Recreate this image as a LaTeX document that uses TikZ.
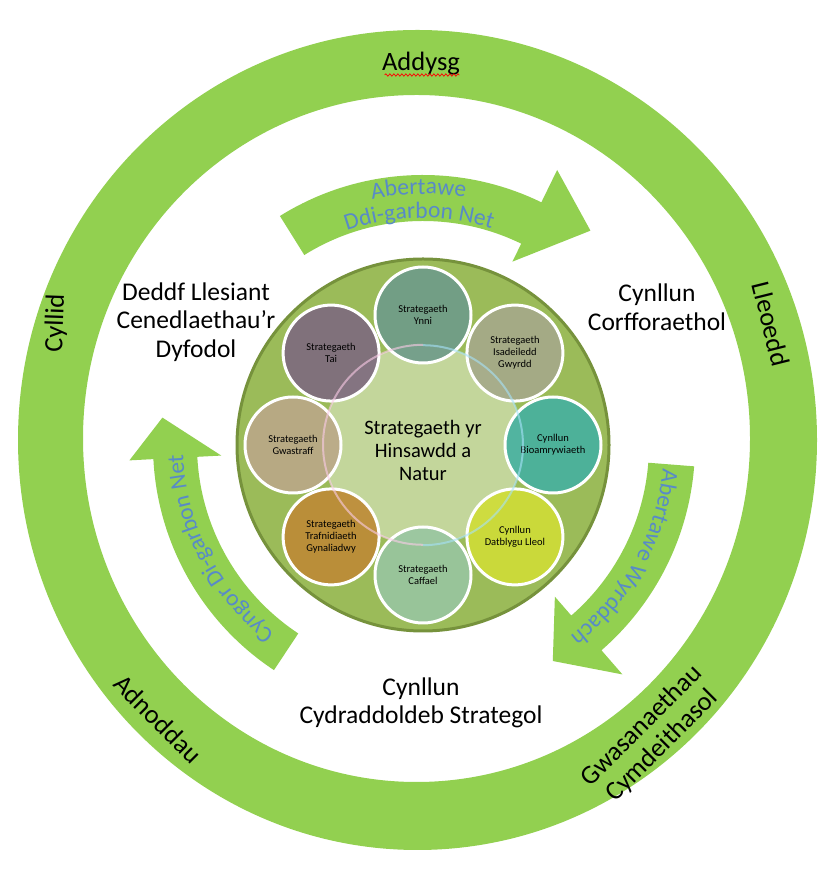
\documentclass[tikz,border=0pt]{standalone}
\usepackage{fontspec}
\setmainfont{Carlito}
\usepackage{tikz}
\usetikzlibrary{calc,positioning,decorations.text,decorations.pathmorphing}
\definecolor{ringgreen}{HTML}{92D050}
\definecolor{discgreen}{HTML}{9BBB59}
\definecolor{discedge}{HTML}{76923C}
\definecolor{hubgreen}{HTML}{C3D69B}
\definecolor{arrowblue}{RGB}{88,138,200}
\definecolor{ynni}{HTML}{6E9B8A}
\definecolor{isadeiledd}{HTML}{A5A98A}
\definecolor{bioam}{HTML}{45B1A1}
\definecolor{datblygu}{HTML}{D0DD37}
\definecolor{caffael}{HTML}{98C6A1}
\definecolor{trafnid}{HTML}{BE8A36}
\definecolor{gwastraff}{HTML}{BBA888}
\definecolor{tai}{HTML}{7E6A7F}
\newcommand{\arrowfont}{\fontsize{23.5}{23.5}\selectfont}

\begin{document}
\begin{tikzpicture}[x=1pt, y=1pt,
  bigtext/.style={align=center, font=\fontsize{25.5}{28.5}\selectfont},
  ringtext/.style={align=center, font=\fontsize{26.5}{28.5}\selectfont},
  strat/.style={circle, draw=white, line width=3pt, minimum size=96pt, inner sep=0pt,
    fill opacity=0.9, text opacity=1, align=center, font=\fontsize{10.5}{12}\selectfont},
  band/.style={fill=ringgreen},
  bandtext/.style={decorate, decoration={text along path, text align=center, text color=arrowblue}}]
  \useasboundingbox (0,0) rectangle (818,869);

  \fill[ringgreen, even odd rule] (417.5,429) ellipse[x radius=399.5pt, y radius=410pt]
    (416.5,430.5) ellipse[x radius=333.5pt, y radius=343.5pt];
  \node[ringtext] (addysg) at (421,805) {Addysg};
  \draw[red, line width=0.7pt, decorate, decoration={snake, amplitude=1.2pt, segment length=4pt}]
    ($(addysg.south west)+(6,4)$) -- ($(addysg.south east)+(-4,4)$);
  \node[ringtext, rotate=88] (cyllid) at (56,546) {Cyllid};
  \node[ringtext, rotate=-76] (lleoedd) at (771,545) {Lleoedd};
  \node[ringtext, rotate=-45] (adnoddau) at (158,150) {Adnoddau};
  \node[ringtext, rotate=45] (gwasanaethau) at (652,133) {Gwasanaethau\\Cymdeithasol};

  \node[bigtext] (deddf) at (196,547) {Deddf Llesiant\\Cenedlaethau’r\\Dyfodol};
  \node[bigtext] (corff) at (657,562) {Cynllun\\Corfforaethol};
  \node[bigtext] (cydr) at (421,166) {Cynllun\\Cydraddoldeb Strategol};

  \node[circle, minimum size=372pt, fill=discgreen, draw=discedge, line width=3pt] (disc) at (423,424) {};
  \node[circle, minimum size=200pt, fill=hubgreen] (hub) at (disc) {};
  \node[strat, fill=ynni] (ynni) at ($(hub)+(90:130)$) {Strategaeth\\Ynni};
  \node[strat, fill=isadeiledd] (isad) at ($(hub)+(45:130)$) {Strategaeth\\Isadeiledd\\Gwyrdd};
  \node[strat, fill=bioam] (bio) at ($(hub)+(0:130)$) {Cynllun\\Bioamrywiaeth};
  \node[strat, fill=datblygu] (cdl) at ($(hub)+(-45:130)$) {Cynllun\\Datblygu Lleol};
  \node[strat, fill=caffael] (caffael) at ($(hub)+(-90:130)$) {Strategaeth\\Caffael};
  \node[strat, fill=trafnid] (trafn) at ($(hub)+(-135:130)$) {Strategaeth\\Trafnidiaeth\\Gynaliadwy};
  \node[strat, fill=gwastraff] (gwastr) at ($(hub)+(180:130)$) {Strategaeth\\Gwastraff};
  \node[strat, fill=tai] (tai) at ($(hub)+(135:130)$) {Strategaeth\\Tai};
  \draw[cyan!35, line width=2pt, opacity=0.6] (hub.south) arc[start angle=-90, end angle=90, radius=100pt];
  \draw[magenta!20, line width=2pt, opacity=0.6] (hub.north) arc[start angle=90, end angle=270, radius=100pt];
  \node[align=center, font=\fontsize{20.5}{23}\selectfont] (hubtext) at ($(hub)+(0,-5)$) {Strategaeth yr\\Hinsawdd a\\Natur};

  \begin{scope}[shift={(423,424)}]
    \fill[band] (122:270) arc[start angle=122, end angle=64, radius=270pt] -- (64:306) -- (52:272)
      -- (64:204) -- (64:224) arc[start angle=64, end angle=122, radius=224pt] -- cycle;
    \fill[band] (-4.5:272) arc[start angle=-4.5, end angle=-49, radius=272pt] -- (-49:304) -- (-59:252)
      -- (-49:201) -- (-49:226) arc[start angle=-49, end angle=-4.5, radius=226pt] -- cycle;
    \fill[band] (236.5:270) arc[start angle=236.5, end angle=183, radius=270pt] -- (183:294) -- (174:262)
      -- (183:202) -- (183:226) arc[start angle=183, end angle=236.5, radius=226pt] -- cycle;
    \path[bandtext, decoration={text={|\arrowfont|Abertawe}}] (121:251) arc[start angle=121, end angle=61, radius=251pt];
    \path[bandtext, decoration={text={|\arrowfont|Ddi-garbon Net}}] (121:227) arc[start angle=121, end angle=61, radius=227pt];
    \path[bandtext, decoration={text={|\arrowfont|Abertawe Wyrddach}}] (-1:241) arc[start angle=-1, end angle=-57, radius=241pt];
    \path[bandtext, decoration={text={|\arrowfont|Cyngor Di-garbon Net}}] (237:240) arc[start angle=237, end angle=177, radius=240pt];
  \end{scope}
\end{tikzpicture}
\end{document}
